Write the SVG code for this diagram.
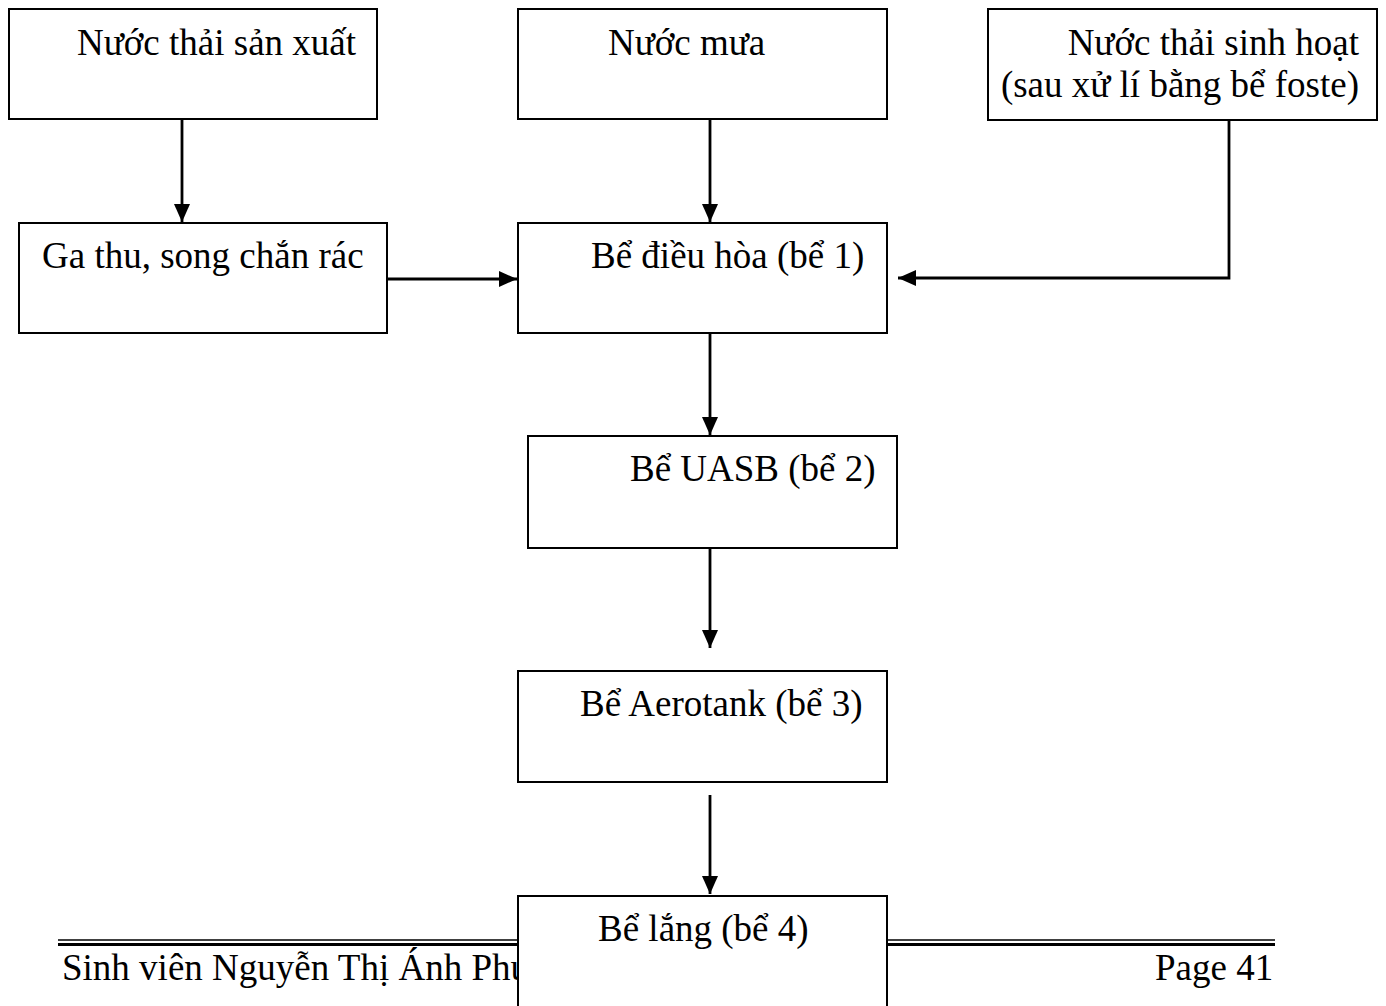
<svg xmlns="http://www.w3.org/2000/svg" width="1386" height="1006" viewBox="0 0 1386 1006">
  <defs>
    <marker id="arrow" viewBox="0 0 18 16" refX="18" refY="8" markerWidth="18" markerHeight="16" markerUnits="userSpaceOnUse" orient="auto">
      <path d="M0,0 L18,8 L0,16 Z" fill="#000"/>
    </marker>
  </defs>
  <style>
    .box { fill: #fff; stroke: #000; stroke-width: 2; }
    .lbl { font-family: "Liberation Serif", "Times New Roman", serif; font-size: 37px; fill: #000; }
    .conn { fill: none; stroke: #000; stroke-width: 2.8; marker-end: url(#arrow); }
  </style>
  <rect width="1386" height="1006" fill="#fff"/>

  <!-- page footer (partly covered by the last tank box) -->
  <g id="footer">
    <line x1="58" y1="940" x2="1275" y2="940" stroke="#000" stroke-width="1.5"/>
    <line x1="58" y1="944.5" x2="1275" y2="944.5" stroke="#000" stroke-width="3"/>
    <text class="lbl" x="62" y="980">Sinh viên Nguyễn Thị Ánh Phư</text>
    <text class="lbl" x="1155" y="980">Page 41</text>
  </g>

  <!-- connectors -->
  <g id="connectors">
    <path class="conn" d="M182,120 L182,222"/>
    <path class="conn" d="M710,120 L710,222"/>
    <path class="conn" d="M388,279 L517,279"/>
    <path class="conn" d="M1229,120 L1229,278 L898,278"/>
    <path class="conn" d="M710,334 L710,435"/>
    <path class="conn" d="M710,549 L710,648"/>
    <path class="conn" d="M710,795 L710,894"/>
  </g>

  <g id="n-san-xuat">
    <rect class="box" x="9" y="9" width="368" height="110"/>
    <text class="lbl" x="77" y="55">Nước thải sản xuất</text>
  </g>
  <g id="n-mua">
    <rect class="box" x="518" y="9" width="369" height="110"/>
    <text class="lbl" x="608" y="55">Nước mưa</text>
  </g>
  <g id="n-sinh-hoat">
    <rect class="box" x="988" y="9" width="389" height="111"/>
    <text class="lbl" x="1359" y="55" text-anchor="end">Nước thải sinh hoạt</text>
    <text class="lbl" x="1359" y="97" text-anchor="end">(sau xử lí bằng bể foste)</text>
  </g>
  <g id="n-ga-thu">
    <rect class="box" x="19" y="223" width="368" height="110"/>
    <text class="lbl" x="42" y="268">Ga thu, song chắn rác</text>
  </g>
  <g id="n-dieu-hoa">
    <rect class="box" x="518" y="223" width="369" height="110"/>
    <text class="lbl" x="591" y="268">Bể điều hòa (bể 1)</text>
  </g>
  <g id="n-uasb">
    <rect class="box" x="528" y="436" width="369" height="112"/>
    <text class="lbl" x="630" y="481">Bể UASB (bể 2)</text>
  </g>
  <g id="n-aerotank">
    <rect class="box" x="518" y="671" width="369" height="111"/>
    <text class="lbl" x="580" y="716">Bể Aerotank (bể 3)</text>
  </g>
  <g id="n-lang">
    <rect class="box" x="518" y="896" width="369" height="120"/>
    <text class="lbl" x="598" y="941">Bể lắng (bể 4)</text>
  </g>
</svg>
